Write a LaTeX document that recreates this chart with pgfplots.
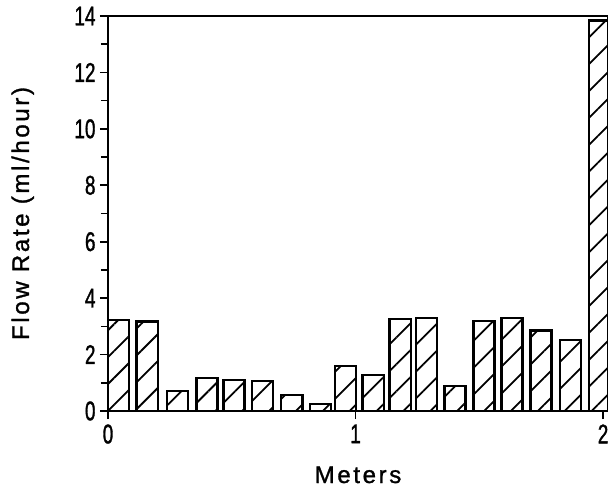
\documentclass[border=0pt]{standalone}
\usepackage{fontspec}
\setmainfont{Liberation Sans}
\newfontfamily\tickfont[FakeStretch=0.7,FakeBold=1.2]{Liberation Sans}
\newfontfamily\labfont[LetterSpace=11,FakeBold=1.2]{Liberation Sans}
\usepackage{pgfplots}
\pgfplotsset{compat=1.18}
\usetikzlibrary{patterns.meta}
\begin{document}
\begin{tikzpicture}
\begin{axis}[name=ax, scale only axis, width=500bp, height=395bp,
  xmin=0, xmax=2.02, ymin=0, ymax=14,
  axis line style={line width=2.2bp},
  xtick={0,1,2}, ytick={0,2,...,14}, minor y tick num=1,
  tick align=outside, tick style={line width=1.6bp, black},
  major tick length=8bp, minor tick length=7bp,
  xtick pos=bottom, ytick pos=left,
  /pgf/number format/assume math mode=true,
  tick label style={font=\tickfont\fontsize{27bp}{29bp}\selectfont},
  yticklabel style={xshift=-1bp},
  xticklabel style={yshift=-2bp},
  xlabel={Meters}, ylabel={Flow Rate (ml/hour)},
  every axis x label/.style={at={([yshift=-72bp]axis description cs:0.5,0)}, anchor=base, font=\labfont\fontsize{24bp}{26bp}\selectfont},
  every axis y label/.style={at={([xshift=-79bp]axis description cs:0,0.5)}, anchor=base, rotate=90, font=\labfont\fontsize{24bp}{26bp}\selectfont},
]
\addplot[ybar, bar width=0.085, draw=black, line width=2.2bp,
  pattern={Lines[angle=45,distance=19bp,line width=1.8bp]}] coordinates {
(0.042,3.23) (0.158,3.17) (0.281,0.72) (0.400,1.17) (0.509,1.10) (0.624,1.07)
(0.743,0.57) (0.857,0.25) (0.960,1.60) (1.071,1.27) (1.180,3.25) (1.287,3.29)
(1.402,0.89) (1.519,3.19) (1.632,3.31) (1.749,2.85) (1.867,2.52) (1.985,13.84)
};
\end{axis}
\pgfresetboundingbox
\useasboundingbox ([shift={(-108bp,-81bp)}]ax.south west) rectangle ([shift={(0bp,16bp)}]ax.north east);
\end{tikzpicture}
\end{document}
